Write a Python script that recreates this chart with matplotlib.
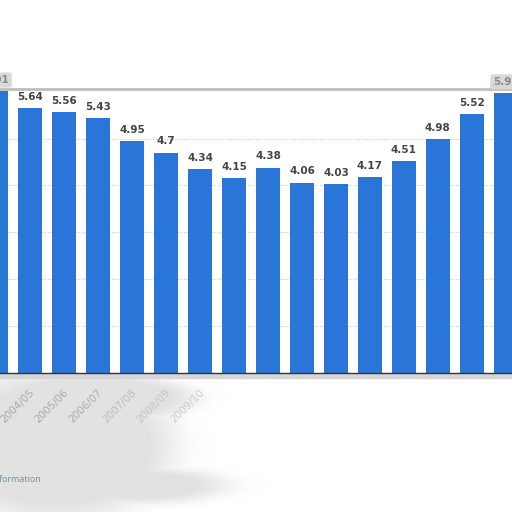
import numpy as np
import matplotlib
matplotlib.use("Agg")
import matplotlib.pyplot as plt

seasons = ["2003/04", "2004/05", "2005/06", "2006/07", "2007/08", "2008/09",
           "2009/10", "2010/11", "2011/12", "2012/13", "2013/14", "2014/15",
           "2015/16", "2016/17", "2017/18", "2018/19"]
values = [6.01, 5.64, 5.56, 5.43, 4.95, 4.7, 4.34, 4.15, 4.38, 4.06, 4.03,
          4.17, 4.51, 4.98, 5.52, 5.97]
first_tick, last_tick = 1, 6  # only these season labels are readable in the picture

W = H = 512
fig = plt.figure(figsize=(5.12, 5.12), dpi=100)
fig.patch.set_facecolor("white")

# grey smudge below the chart (decorative background)
bg = fig.add_axes([0, 0, 1, 1], zorder=0)
bg.set_xlim(0, W); bg.set_ylim(H, 0); bg.axis("off")
yy, xx = np.mgrid[0:H, 0:W]
def blob(cx, cy, rx, ry, p=3):
    d = ((xx - cx) / rx) ** 2 + ((yy - cy) / ry) ** 2
    return np.exp(-d ** p)
m = np.maximum(blob(55, 445, 120, 75), blob(140, 485, 85, 18, 2))
m = np.maximum(m, blob(90, 398, 105, 25))
m[yy < 374] = 0
img = np.ones((H, W, 4))
img[..., :3] = 0.86
img[..., 3] = np.clip(m, 0, 0.8)
bg.imshow(img, extent=(0, W, H, 0), interpolation="bilinear")
bg.text(41, 479, "Additional Information", ha="right", va="center",
        fontsize=6.5, color="#6f8fa3", family="Open Sans")
bg.axhspan(374, 378, color="#d6d6d6", zorder=1)

# main chart
y_base = 373
px_per_unit = 46.9
ytop = (y_base - 89) / px_per_unit
spacing = 33.96
c1 = 30.3
x_left = 1 - c1 / spacing
x_right = 1 + (W - c1) / spacing

ax = fig.add_axes([0, (H - y_base) / H, 1, (y_base - 89) / H], zorder=1)
ax.set_facecolor("none")
ax.set_xlim(x_left, x_right)
ax.set_ylim(0, ytop)
for s in ax.spines.values():
    s.set_visible(False)
ax.set_xticks([]); ax.set_yticks([])

x = np.arange(len(values))
for gy in range(1, 6):
    ax.axhline(gy, color="#c8c8c8", lw=0.8, ls=(0, (1, 1.5)), zorder=0)
ax.axhline(ytop, color="#bdbdbd", lw=2.0, zorder=3, clip_on=False)

ax.bar(x, values, width=0.70, color="#2a76d8", zorder=2, clip_on=False)
ax.axhline(0, color="#333333", lw=1.0, zorder=4, clip_on=False)

for xi, v in zip(x, values):
    if v > 5.9:
        ax.text(xi, v + 0.13, f"{v:g}", ha="center", va="bottom", fontsize=7.5,
                color="#8a8a8a", fontweight="bold", clip_on=False, zorder=5,
                bbox=dict(boxstyle="round,pad=0.25", fc="#d8d8d8", ec="none"))
    else:
        ax.text(xi, v + 0.13, f"{v:g}", ha="center", va="bottom", fontsize=7.5,
                color="#444444", fontweight="bold", zorder=5)

tick_colors = ["#a8a8a8", "#a8a8a8", "#a8a8a8", "#adadad", "#bcbcbc", "#c4c4c4", "#cccccc"]
for i in range(first_tick, last_tick + 1):
    ax.text(x[i] - 0.02, -0.3, seasons[i], rotation=45, rotation_mode="anchor",
            ha="right", va="top", fontsize=7.5, color=tick_colors[i],
            clip_on=False, zorder=5)

fig.savefig("out.png", dpi=100, facecolor="white")
